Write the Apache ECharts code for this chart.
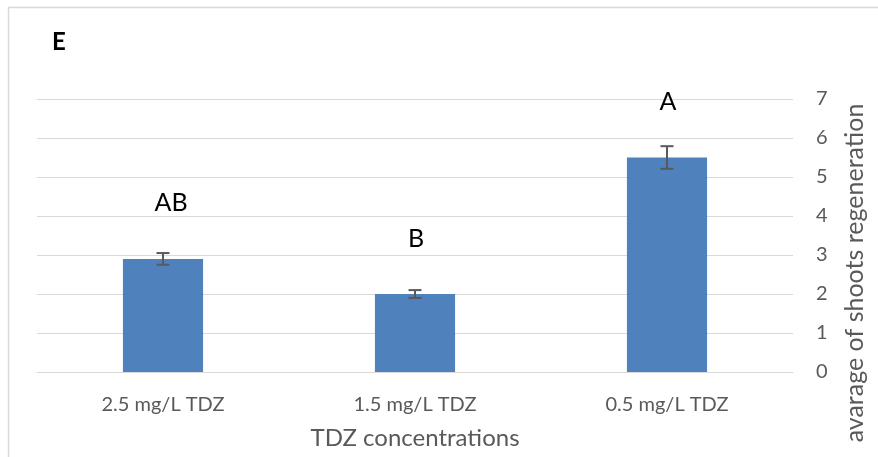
<!DOCTYPE html>
<html>
<head>
<meta charset="utf-8">
<script src="https://cdn.jsdelivr.net/npm/echarts@6/dist/echarts.min.js"></script>
<style>
  html, body { margin: 0; padding: 0; background: #fff; }
  #chart { width: 878px; height: 457px; }
</style>
</head>
<body>
<div id="chart"></div>
<script>
// Shoot regeneration under three TDZ concentrations
const categories = ['2.5 mg/L TDZ', '1.5 mg/L TDZ', '0.5 mg/L TDZ'];
const means = [2.9, 2.0, 5.5];
const errors = [0.15, 0.1, 0.29];
const groupLetters = ['AB', 'B', 'A'];
const yTicks = [0, 1, 2, 3, 4, 5, 6, 7];

const font = 'Lato, "Open Sans", sans-serif';
const chart = echarts.init(document.getElementById('chart'));

chart.setOption({
  animation: false,
  backgroundColor: '#fff',
  graphic: [
    { type: 'rect', shape: { x: 8.5, y: 7.5, width: 900, height: 480 },
      style: { fill: 'none', stroke: '#d9d9d9', lineWidth: 1.5 }, silent: true },
    { type: 'text', left: 52, top: 30,
      style: { text: 'E', font: 'bold 24px ' + font, fill: '#000' } },
    { type: 'text', x: 855, y: 273, rotation: Math.PI / 2,
      style: { text: 'avarage of shoots regeneration', font: '25px ' + font,
               fill: '#595959', align: 'center', verticalAlign: 'middle' } }
  ],
  grid: { left: 37, right: 85, top: 99, bottom: 85, outerBoundsMode: 'none' },
  xAxis: {
    type: 'category',
    data: categories,
    axisLine: { lineStyle: { color: '#d9d9d9', width: 1 } },
    axisTick: { show: false },
    axisLabel: { color: '#595959', fontSize: 20, fontFamily: font, margin: 23 },
    name: 'TDZ concentrations',
    nameLocation: 'middle',
    nameGap: 54,
    nameTextStyle: { color: '#595959', fontSize: 24, fontFamily: font }
  },
  yAxis: {
    type: 'value',
    position: 'right',
    min: yTicks[0],
    max: yTicks[yTicks.length - 1],
    interval: 1,
    axisLine: { show: false },
    axisTick: { show: false },
    splitLine: { lineStyle: { color: '#d9d9d9', width: 1 } },
    axisLabel: { color: '#595959', fontSize: 20, fontFamily: font, margin: 23 }
  },
  series: [
    {
      type: 'bar',
      data: means.map((v, i) => ({
        value: v,
        label: { formatter: groupLetters[i], offset: i === 0 ? [8, 0] : [1, 0] }
      })),
      barWidth: '31.8%',
      itemStyle: { color: '#4f81bd' },
      label: {
        show: true, position: 'top', distance: 43,
        color: '#000', fontSize: 25, fontFamily: font
      }
    },
    {
      type: 'custom',
      z: 5,
      data: means.map((v, i) => [i, v, errors[i]]),
      renderItem: function (params, api) {
        const i = api.value(0);
        const hi = api.coord([i, api.value(1) + api.value(2)]);
        const lo = api.coord([i, api.value(1) - api.value(2)]);
        const half = 6.5;
        const style = { stroke: '#595959', lineWidth: 2 };
        return {
          type: 'group',
          children: [
            { type: 'line', shape: { x1: hi[0], y1: hi[1], x2: lo[0], y2: lo[1] }, style },
            { type: 'line', shape: { x1: hi[0] - half, y1: hi[1], x2: hi[0] + half, y2: hi[1] }, style },
            { type: 'line', shape: { x1: lo[0] - half, y1: lo[1], x2: lo[0] + half, y2: lo[1] }, style }
          ]
        };
      }
    }
  ]
});
</script>
</body>
</html>
